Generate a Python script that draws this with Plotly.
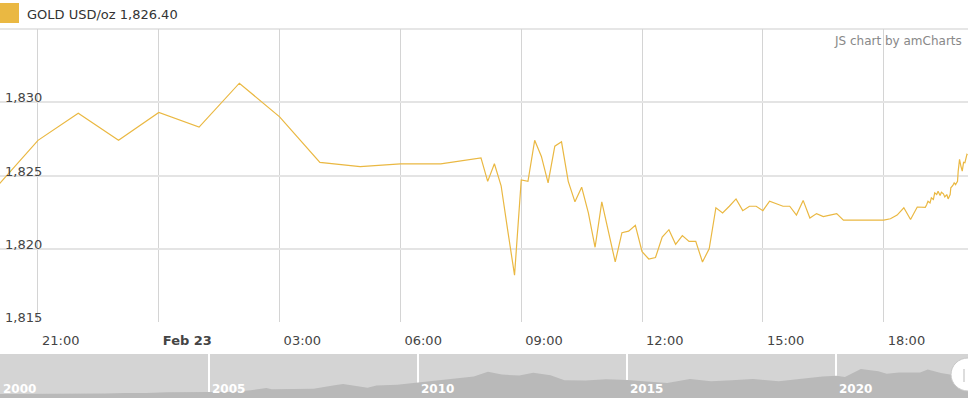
import pandas as pd
import plotly.graph_objects as go

# ---------------- data ----------------
hourly_times = ["2023-02-22 20:00", "2023-02-22 21:00", "2023-02-22 22:00", "2023-02-22 23:00",
                "2023-02-23 00:00", "2023-02-23 01:00", "2023-02-23 02:00", "2023-02-23 03:00",
                "2023-02-23 04:00", "2023-02-23 05:00", "2023-02-23 06:00", "2023-02-23 07:00",
                "2023-02-23 08:00"]
hourly_values = [1824.3, 1827.4, 1829.25, 1827.4, 1829.3, 1828.3, 1831.3, 1829.0,
                 1825.9, 1825.6, 1825.8, 1825.8, 1826.2]

tenmin_times = [t.strftime("%Y-%m-%d %H:%M") for t in
                pd.date_range("2023-02-23 08:10", "2023-02-23 19:00", freq="10min")]
tenmin_values = [1824.6, 1825.8, 1824.3, 1821.2, 1818.2,
                 1824.7, 1824.6, 1827.4, 1826.3, 1824.5, 1827.0,
                 1827.3, 1824.6, 1823.2, 1824.2, 1822.45, 1820.1,
                 1823.2, 1821.1, 1819.1, 1821.1, 1821.2, 1821.6,
                 1819.8, 1819.3, 1819.4, 1820.8, 1821.3, 1820.3,
                 1820.9, 1820.5, 1820.5, 1819.1, 1820.0, 1822.8,
                 1822.45, 1822.9, 1823.4, 1822.6, 1822.9, 1822.9,
                 1822.6, 1823.25, 1823.1, 1822.9, 1822.9, 1822.3,
                 1823.3, 1822.1, 1822.4, 1822.2, 1822.3, 1822.4,
                 1821.95, 1821.95, 1821.95, 1821.95, 1821.95, 1821.95,
                 1821.95, 1822.05, 1822.3, 1822.8, 1822.0, 1822.85,
                 1822.8]

recent_times = ["2023-02-23 19:02", "2023-02-23 19:04", "2023-02-23 19:06", "2023-02-23 19:09",
                "2023-02-23 19:11", "2023-02-23 19:14", "2023-02-23 19:16", "2023-02-23 19:19",
                "2023-02-23 19:21", "2023-02-23 19:24", "2023-02-23 19:26", "2023-02-23 19:29",
                "2023-02-23 19:31", "2023-02-23 19:34", "2023-02-23 19:36", "2023-02-23 19:39",
                "2023-02-23 19:40", "2023-02-23 19:43", "2023-02-23 19:45", "2023-02-23 19:47",
                "2023-02-23 19:50", "2023-02-23 19:51", "2023-02-23 19:53", "2023-02-23 19:55",
                "2023-02-23 19:57", "2023-02-23 19:59", "2023-02-23 20:01", "2023-02-23 20:04",
                "2023-02-23 20:05"]
recent_values = [1822.83, 1823.0, 1823.24, 1823.13, 1823.47, 1823.36, 1823.82, 1823.7,
                 1823.92, 1823.63, 1823.86, 1823.75, 1823.54, 1823.7, 1823.4, 1823.7,
                 1824.16, 1824.32, 1824.5, 1824.38, 1824.6, 1825.3, 1826.1, 1825.64,
                 1825.3, 1825.9, 1825.87, 1826.44, 1826.4]

x_tick_vals = ["2023-02-22 21:00", "2023-02-23 00:00", "2023-02-23 03:00", "2023-02-23 06:00",
               "2023-02-23 09:00", "2023-02-23 12:00", "2023-02-23 15:00", "2023-02-23 18:00"]
x_tick_text = ["21:00", "<b>Feb 23</b>", "03:00", "06:00", "09:00", "12:00", "15:00", "18:00"]
y_tick_vals = [1815, 1820, 1825, 1830]
y_tick_text = ["1,815", "1,820", "1,825", "1,830"]

legend_label = "GOLD USD/oz 1,826.40"
credit_label = "JS chart by amCharts"

hist_dates = ["2000-01-01", "2000-07-01", "2001-01-01", "2001-07-01", "2002-01-01", "2002-07-01",
              "2003-01-01", "2003-07-01", "2004-01-01", "2004-07-01", "2005-01-01", "2005-07-01",
              "2006-01-01", "2006-05-15", "2006-07-01", "2007-01-01", "2007-07-01", "2008-01-01",
              "2008-03-15", "2008-10-15", "2009-01-01", "2009-07-01", "2010-01-01", "2010-07-01",
              "2011-01-01", "2011-05-01", "2011-09-01", "2012-01-01", "2012-06-01", "2012-10-01",
              "2013-03-01", "2013-07-01", "2014-01-01", "2014-07-01", "2015-01-01", "2015-07-01",
              "2015-12-15", "2016-07-01", "2017-01-01", "2017-07-01", "2018-01-01", "2018-08-15",
              "2019-01-01", "2019-09-01", "2020-01-01", "2020-03-15", "2020-08-01", "2021-01-01",
              "2021-03-15", "2021-07-01", "2022-01-01", "2022-03-08", "2022-07-01", "2022-10-01",
              "2023-01-01", "2023-02-23"]
hist_prices = [285, 285, 265, 270, 280, 315, 355, 350, 410, 395, 425, 430,
               550, 700, 620, 640, 660, 900, 980, 730, 880, 940, 1100, 1230,
               1370, 1520, 1850, 1650, 1580, 1780, 1600, 1250, 1240, 1320, 1260, 1130,
               1060, 1340, 1180, 1250, 1330, 1180, 1290, 1520, 1560, 1480, 2040, 1880,
               1700, 1800, 1800, 2000, 1760, 1640, 1900, 1826]
hist_tick_vals = ["2000-01-01", "2005-01-01", "2010-01-01", "2015-01-01", "2020-01-01"]
hist_tick_text = ["2000", "2005", "2010", "2015", "2020"]

# ---------------- layout helpers ----------------
W, H = 968, 405
def px(x):
    return x / W
def py(y):
    return 1 - y / H

FONT = "DejaVu Sans"
GOLD = "#EAB842"

main_times = hourly_times + tenmin_times + recent_times
main_values = hourly_values + tenmin_values + recent_values

fig = go.Figure()
fig.add_trace(go.Scatter(x=hist_dates, y=hist_prices, xaxis="x2", yaxis="y2",
                         mode="lines", line=dict(width=0, color="#b9b9b9"),
                         fill="tozeroy", fillcolor="#b9b9b9", hoverinfo="skip",
                         showlegend=False))
fig.add_trace(go.Scatter(x=main_times, y=main_values, mode="lines",
                         line=dict(color=GOLD, width=1.2), name=legend_label,
                         showlegend=False))

# y-axis value labels sit just above their grid lines, inside the plot
y_label_annotations = [
    dict(text=t, xref="paper", yref="y", x=px(3), y=v, xanchor="left", yanchor="bottom",
         yshift=-5, showarrow=False, font=dict(size=13, color="#444", family=FONT))
    for v, t in zip(y_tick_vals, y_tick_text)
]
# scrollbar year labels, to the right of each separator
year_annotations = [
    dict(text=t, xref="x2", yref="paper", x=d, y=py(389), xanchor="left", yanchor="middle",
         xshift=1, showarrow=False, font=dict(size=12, color="white", family=FONT, weight="bold"))
    for d, t in zip(hist_tick_vals, hist_tick_text)
]

fig.update_layout(
    width=W, height=H,
    margin=dict(l=0, r=0, t=0, b=0),
    paper_bgcolor="white", plot_bgcolor="white",
    font=dict(family=FONT, size=13, color="#444"),
    xaxis=dict(type="date", domain=[0, 1], anchor="y",
               range=["2023-02-22 20:03:24", "2023-02-23 20:05:36"],
               tickmode="array", tickvals=x_tick_vals, ticktext=x_tick_text,
               showgrid=True, gridcolor="#d4d4d4", gridwidth=1,
               zeroline=False, showline=False, ticks="",
               ticklabelposition="outside right", ticklabelstandoff=9, ticklabelshift=4,
               tickfont=dict(size=13, color="#444", family=FONT)),
    yaxis=dict(domain=[py(322), py(29)], anchor="x",
               range=[1815, 1835], tickmode="array",
               tickvals=y_tick_vals, showticklabels=False,
               showgrid=True, gridcolor="#e4e4e4", gridwidth=2,
               zeroline=False, showline=False, ticks=""),
    xaxis2=dict(type="date", domain=[0, 1], anchor="y2",
                range=["2000-01-01", "2023-02-23"],
                tickmode="array", tickvals=hist_tick_vals, showticklabels=False,
                showgrid=True, gridcolor="white", gridwidth=2,
                zeroline=False, showline=False, ticks=""),
    yaxis2=dict(domain=[py(398), py(354)], anchor="x2", range=[0, 3100],
                showgrid=False, zeroline=False, showticklabels=False, ticks=""),
    shapes=[
        dict(type="rect", xref="x2 domain", yref="y2 domain", x0=0, x1=1, y0=0, y1=1,
             fillcolor="#d4d4d4", line=dict(width=0), layer="below"),
        dict(type="line", xref="x domain", yref="y domain", x0=0, x1=1, y0=1, y1=1,
             line=dict(color="#e6e6e6", width=2), layer="below"),
        dict(type="rect", xref="paper", yref="paper", x0=px(0), x1=px(19), y0=py(23), y1=py(3),
             fillcolor=GOLD, line=dict(width=0)),
        dict(type="circle", xref="paper", yref="paper", x0=px(951), x1=px(985),
             y0=py(391), y1=py(358), fillcolor="white", line=dict(color="#c8c8c8", width=1)),
        dict(type="line", xref="paper", yref="paper", x0=px(964), x1=px(964),
             y0=py(382), y1=py(369), line=dict(color="#bbbbbb", width=1)),
    ],
    annotations=[
        dict(text=legend_label, xref="paper", yref="paper", x=px(25), y=py(15),
             xanchor="left", yanchor="middle", showarrow=False,
             font=dict(size=13, color="#333", family=FONT)),
        dict(text=credit_label, xref="paper", yref="paper", x=px(964), y=py(41),
             xanchor="right", yanchor="middle", showarrow=False,
             font=dict(size=12, color="#888", family=FONT)),
    ] + y_label_annotations + year_annotations,
)

fig.write_html("out.html", config={"displayModeBar": False},
               post_script="document.body.style.margin='0';")
